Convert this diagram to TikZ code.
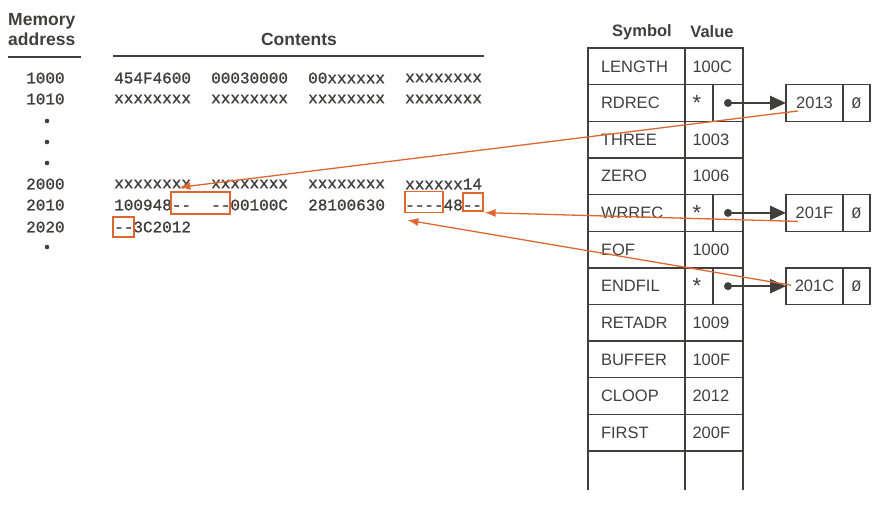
\documentclass[tikz,border=0pt]{standalone}
\usepackage{fontspec}
\setmainfont{Liberation Sans}
\newfontfamily\codefont[FakeBold=1.2]{Liberation Mono}
\newfontfamily\zerofont{Liberation Mono}
\usetikzlibrary{arrows.meta,positioning,calc}

\definecolor{ink}{RGB}{66,62,62}
\definecolor{hilite}{RGB}{224,102,48}

\newcommand{\hy}{-\kern0pt }
\newcommand{\starmark}{\raisebox{-0.35em}{\fontsize{22}{22}\selectfont *}}

\begin{document}
\begin{tikzpicture}[x=1pt, y=-1pt,
    hdr/.style={font=\fontsize{17.5}{20}\selectfont\bfseries, text=ink, inner sep=0pt},
    word/.style={font=\codefont\fontsize{16}{18}\selectfont, text=ink, anchor=west, inner sep=0pt},
    rule/.style={draw=ink, line width=1.8pt},
    cell/.style={draw=ink, line width=1.4pt, inner ysep=0pt, outer sep=0pt,
        minimum height=36.64pt, text=ink, font=\fontsize{16.5}{18}\selectfont},
    symcell/.style={cell, anchor=north west, minimum width=97pt, inner xsep=13pt,
        text width=71pt, align=left},
    valcell/.style={cell, anchor=north west, minimum width=58pt, inner xsep=7.5pt,
        text width=43pt, align=left},
    dotcell/.style={cell, anchor=north east, minimum width=30pt},
    ptrbox/.style={cell, minimum width=57pt},
    nilbox/.style={cell, minimum width=27pt, font=\zerofont\fontsize{16}{18}\selectfont},
    ptr/.style={draw=ink, line width=2.4pt, -{Triangle[length=16pt,width=14pt]}},
    hlbox/.style={draw=hilite, line width=1.3pt, inner sep=0pt},
    link/.style={draw=hilite, line width=1.3pt, -{Latex[length=11pt,width=8pt]}}]

    \useasboundingbox (0,0) rectangle (881,504);

    % Headings of the memory dump
    \node[hdr, align=left, anchor=west] (memaddr) at (8,30) {Memory\\address};
    \node[hdr] (contents) at (299,39) {Contents};
    \draw[rule] (8,57) -- (81,57);
    \draw[rule] (113,56) -- (484,56);

    % Memory rows
    \node[word] (a1000) at (26,78) {1000};
    \foreach \w [count=\k] in {454F4600, 00030000, 00xxxxxx, xxxxxxxx}
        \node[word] (c1000\k) at ({114+97*(\k-1)},78) {\w};
    \node[word] (a1010) at (26,99) {1010};
    \foreach \w [count=\k] in {xxxxxxxx, xxxxxxxx, xxxxxxxx, xxxxxxxx}
        \node[word] (c1010\k) at ({114+97*(\k-1)},99) {\w};
    \node[word] (a2000) at (26,184) {2000};
    \foreach \w [count=\k] in {xxxxxxxx, xxxxxxxx, xxxxxxxx, xxxxxx14}
        \node[word] (c2000\k) at ({114+97*(\k-1)},184) {\w};
    \node[word] (a2010) at (26,205) {2010};
    \foreach \w [count=\k] in {100948\hy\hy, \hy\hy00100C, 28100630, \hy\hy\hy\hy48\hy\hy}
        \node[word] (c2010\k) at ({114+97*(\k-1)},205) {\w};
    \node[word] (a2020) at (26,227) {2020};
    \node[word] (c20201) at (114,227) {\hy\hy3C2012};

    % Dots
    \foreach \y in {121,142,163,247}
        \fill[ink] (47,\y) circle (2.3pt);

    % Changed bytes
    \node[hlbox, minimum width=59pt, minimum height=22pt] (h1) at (200.5,203) {};
    \node[hlbox, minimum width=38pt, minimum height=21pt] (h2) at (424,202) {};
    \node[hlbox, minimum width=20pt, minimum height=18pt] (h3) at (473,202) {};
    \node[hlbox, minimum width=21pt, minimum height=20pt] (h4) at (123.5,227) {};

    % Symbol table
    \node[hdr, font=\fontsize{16.5}{20}\selectfont\bfseries] (symhdr) at (642,32) {Symbol};
    \node[hdr, font=\fontsize{16.5}{20}\selectfont\bfseries] (valhdr) at (712,32) {Value};
    \foreach \s/\v [count=\i from 0] in {LENGTH/100C, RDREC/\starmark, THREE/1003,
        ZERO/1006, WRREC/\starmark, EOF/1000, ENDFIL/\starmark, RETADR/1009,
        BUFFER/100F, CLOOP/2012, FIRST/200F}
    {
        \node[symcell] (s\i) at (588,{48+36.64*\i}) {\s};
        \node[valcell] (v\i) at (685,{48+36.64*\i}) {\v};
    }
    \draw[ink, line width=1.4pt] (s10.south west) -- ++(0,39);
    \draw[ink, line width=1.4pt] (s10.south east) -- ++(0,39);
    \draw[ink, line width=1.4pt] (v10.south east) -- ++(0,39);

    % Forward reference lists
    \foreach \i/\a in {1/2013, 4/201F, 6/201C}
    {
        \node[dotcell] (d\i) at (v\i.north east) {};
        \node[ptrbox, right=43pt of d\i] (p\i) {\a};
        \node[nilbox, right=0pt of p\i] (n\i) {Ø};
        \fill[ink] (d\i.center) circle (4pt);
        \draw[ptr] (d\i.center) -- (p\i.west);
    }

    % Links into the object code
    \coordinate (q1) at ($(p1.west)+(12,8)$);
    \coordinate (t1) at ($(h1.north west)+(9,-4)$);
    \coordinate (q4) at ($(p4.west)+(12,8.5)$);
    \coordinate (t4) at ($(h3.south east)+(1,1)$);
    \coordinate (q6) at ($(p6.west)+(5,-1)$);
    \coordinate (t6) at ($(h2.south west)+(3,7)$);
    \draw[link] (q1) -- (t1);
    \draw[link] (q4) -- (t4);
    \draw[link] (q6) -- (t6);

\end{tikzpicture}
\end{document}
